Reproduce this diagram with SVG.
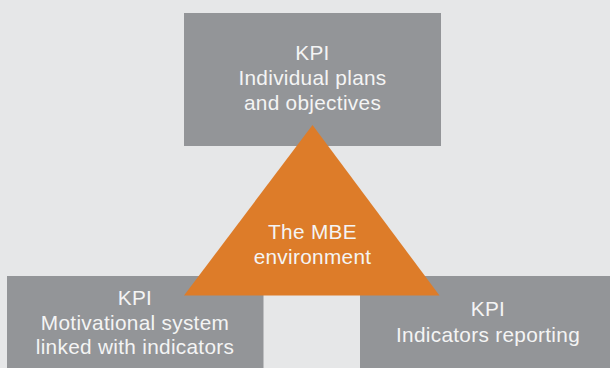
<svg xmlns="http://www.w3.org/2000/svg" width="610" height="368" viewBox="0 0 610 368">
<style>
.box{fill:#939598}
.tri{fill:#dd7c29}
.t{font-family:"Liberation Sans",Arial,sans-serif;font-size:20.8px;letter-spacing:0.3px;fill:#f4f4f4;text-anchor:middle}
</style>
<rect width="610" height="368" fill="#e6e7e8"/>
<g id="node-top">
<rect class="box" x="184" y="13" width="257" height="133"/>
<text class="t" x="312.5" y="59.5">KPI</text>
<text class="t" x="312.5" y="85">Individual plans</text>
<text class="t" x="312.5" y="109.5">and objectives</text>
</g>
<g id="node-left">
<rect class="box" x="7" y="276" width="256.5" height="92"/>
<text class="t" x="135" y="304.5">KPI</text>
<text class="t" x="135" y="330">Motivational system</text>
<text class="t" x="135" y="354">linked with indicators</text>
</g>
<g id="node-right">
<rect class="box" x="360" y="276" width="250" height="92"/>
<text class="t" x="488" y="316">KPI</text>
<text class="t" x="488" y="342">Indicators reporting</text>
</g>
<g id="node-mbe">
<polygon class="tri" points="312.5,125 184,295.5 439.5,295.5"/>
<text class="t" x="312.5" y="238.5">The MBE</text>
<text class="t" x="312.5" y="263.5">environment</text>
</g>
<g id="connectors"></g>
</svg>
